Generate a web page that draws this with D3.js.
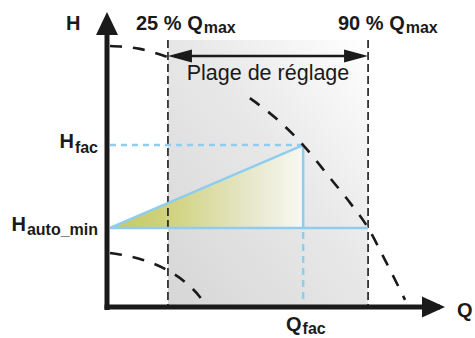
<!DOCTYPE html>
<html>
<head>
<meta charset="utf-8">
<script src="https://cdn.jsdelivr.net/npm/d3@7"></script>
<style>
  html, body { margin: 0; padding: 0; background: #fff; }
  svg { display: block; font-family: "Liberation Sans", Arial, sans-serif; }
</style>
</head>
<body>
<div id="chart"></div>
<script>
// ---- Data (Q and H in arbitrary percent-of-axis units) ----
const qRange = [18.3, 78.4];          // 25 % Qmax, 90 % Qmax
const rangeTop = 90.5;                 // top of the shaded band
const rangeArrowH = 85.1;              // height of "Plage de réglage" arrow
const qFac = 58.9;
const hFac = 54.9;
const hAutoMin = 26.8;
const qStart = 0.9;
// Upper pump curve (null = hidden gap behind the label)
const curveHigh = [[0.9, 88.5], [9.9, 87.5], [18.3, 84.7], null,
  [42.9, 70.8], [52.0, 62.7], [58.9, 54.9], [67.0, 43.7], [73.0, 35.3],
  [78.4, 26.8], [83.5, 15.9], [89.5, 2.4]];
// Lower pump curve
const curveLow = [[0.9, 18.3], [9.9, 16.3], [17.4, 12.9], [23.4, 8.5], [27.9, 3.4], [30.0, 0]];
const labels = {
  yAxis: "H", xAxis: "Q", range: "Plage de réglage",
  qLow: ["25 % Q", "max"], qHigh: ["90 % Q", "max"],
  hFac: ["H", "fac"], hAuto: ["H", "auto_min"], qFac: ["Q", "fac"]
};

const W = 475, H = 338;
const x = d3.scaleLinear().domain([0, 100]).range([107, 440]);
const y = d3.scaleLinear().domain([0, 100]).range([307, 12]);

const svg = d3.select("#chart").append("svg").attr("width", W).attr("height", H);
const defs = svg.append("defs");

const gGray = defs.append("linearGradient").attr("id", "gray")
  .attr("x1", 0).attr("y1", 1).attr("x2", 1).attr("y2", 0);
gGray.append("stop").attr("offset", 0).attr("stop-color", "#d6d6d6");
gGray.append("stop").attr("offset", 0.55).attr("stop-color", "#e8e8e8");
gGray.append("stop").attr("offset", 1).attr("stop-color", "#ffffff");

const gTri = defs.append("linearGradient").attr("id", "tri")
  .attr("x1", 0).attr("y1", 0).attr("x2", 1).attr("y2", 0);
gTri.append("stop").attr("offset", 0).attr("stop-color", "#c4c862");
gTri.append("stop").attr("offset", 0.35).attr("stop-color", "#d2d485");
gTri.append("stop").attr("offset", 0.7).attr("stop-color", "#e5e6c6");
gTri.append("stop").attr("offset", 1).attr("stop-color", "#f8f8f4");

const ink = "#1a1a1a", blue = "#8ecdf0";

// shaded band
svg.append("rect")
  .attr("x", x(qRange[0])).attr("y", y(rangeTop))
  .attr("width", x(qRange[1]) - x(qRange[0])).attr("height", y(0) - y(rangeTop))
  .attr("fill", "url(#gray)");

// triangle
svg.append("path")
  .attr("d", d3.line()([[x(qStart), y(hAutoMin)], [x(qFac), y(hFac)], [x(qFac), y(hAutoMin)]]) + "Z")
  .attr("fill", "url(#tri)").attr("stroke", "none");

// dashed verticals of the band
qRange.forEach(q => {
  svg.append("line").attr("x1", x(q)).attr("x2", x(q))
    .attr("y1", y(rangeTop)).attr("y2", y(0))
    .attr("stroke", ink).attr("stroke-width", 1.6).attr("stroke-dasharray", "8,4");
});

// blue lines
svg.append("line").attr("x1", x(qStart)).attr("x2", x(qFac)).attr("y1", y(hFac)).attr("y2", y(hFac))
  .attr("stroke", blue).attr("stroke-width", 2.5).attr("stroke-dasharray", "6,5");
svg.append("line").attr("x1", x(qFac)).attr("x2", x(qFac)).attr("y1", y(hAutoMin)).attr("y2", y(2.3))
  .attr("stroke", blue).attr("stroke-width", 2.5).attr("stroke-dasharray", "7,5").attr("stroke-dashoffset", -4);
svg.append("line").attr("x1", x(qStart)).attr("x2", x(qRange[1])).attr("y1", y(hAutoMin)).attr("y2", y(hAutoMin))
  .attr("stroke", blue).attr("stroke-width", 2.5);
svg.append("line").attr("x1", x(qFac)).attr("x2", x(qFac)).attr("y1", y(hFac)).attr("y2", y(hAutoMin))
  .attr("stroke", blue).attr("stroke-width", 2.5);
svg.append("line").attr("x1", x(qStart)).attr("x2", x(qFac)).attr("y1", y(hAutoMin)).attr("y2", y(hFac))
  .attr("stroke", blue).attr("stroke-width", 2.5);

// pump curves
const line = d3.line().defined(d => d).x(d => x(d[0])).y(d => y(d[1])).curve(d3.curveMonotoneX);
[curveHigh, curveLow].forEach(c => {
  svg.append("path").attr("d", line(c)).attr("fill", "none")
    .attr("stroke", ink).attr("stroke-width", 2.6).attr("stroke-dasharray", "12,11");
});

// range arrow
const ay = y(rangeArrowH);
svg.append("line").attr("x1", x(qRange[0]) + 10).attr("x2", x(qRange[1]) - 10)
  .attr("y1", ay).attr("y2", ay).attr("stroke", ink).attr("stroke-width", 2.6);
svg.append("path").attr("fill", ink)
  .attr("d", `M${x(qRange[0])},${ay} L${x(qRange[0]) + 24},${ay - 6.5} L${x(qRange[0]) + 24},${ay + 6.5}Z`);
svg.append("path").attr("fill", ink)
  .attr("d", `M${x(qRange[1])},${ay} L${x(qRange[1]) - 24},${ay - 6.5} L${x(qRange[1]) - 24},${ay + 6.5}Z`);

// axes
const x0 = x(0), y0 = y(0);
svg.append("line").attr("x1", x0).attr("x2", x0).attr("y1", y0 + 3).attr("y2", y(97))
  .attr("stroke", ink).attr("stroke-width", 5);
svg.append("path").attr("fill", ink)
  .attr("d", `M${x0},${y(100)} L${x0 - 11},${y(100) + 23} L${x0 + 11},${y(100) + 23}Z`);
svg.append("line").attr("x1", x0 - 2.5).attr("x2", x(100)).attr("y1", y0).attr("y2", y0)
  .attr("stroke", ink).attr("stroke-width", 5);
svg.append("path").attr("fill", ink)
  .attr("d", `M${x(101.5)},${y0} L${x(101.5) - 23},${y0 - 10.5} L${x(101.5) - 23},${y0 + 10.5}Z`);

// labels
function sub(tx, ty, parts, anchor, dySub) {
  const t = svg.append("text").attr("x", tx).attr("y", ty).attr("text-anchor", anchor || "start")
    .attr("fill", ink).attr("font-weight", "bold");
  t.append("tspan").attr("font-size", 20).text(parts[0]);
  t.append("tspan").attr("font-size", 16).attr("dy", dySub).attr("dx", 1).text(parts[1]);
  return t;
}
svg.append("text").attr("x", 66).attr("y", 30).attr("fill", ink).attr("font-weight", "bold")
  .attr("font-size", 20).text(labels.yAxis);
svg.append("text").attr("x", 457).attr("y", 317).attr("fill", ink).attr("font-weight", "bold")
  .attr("font-size", 20).text(labels.xAxis);
sub(136, 30, labels.qLow, "start", 3);
sub(338, 30, labels.qHigh, "start", 3);
sub(98, 148, labels.hFac, "end", 5);
sub(98, 231, labels.hAuto, "end", 4);
sub(286, 331, labels.qFac, "start", 3);
svg.append("text").attr("x", (x(qRange[0]) + x(qRange[1])) / 2).attr("y", 80)
  .attr("text-anchor", "middle").attr("fill", ink).attr("font-size", 21.5).text(labels.range);
</script>
</body>
</html>
